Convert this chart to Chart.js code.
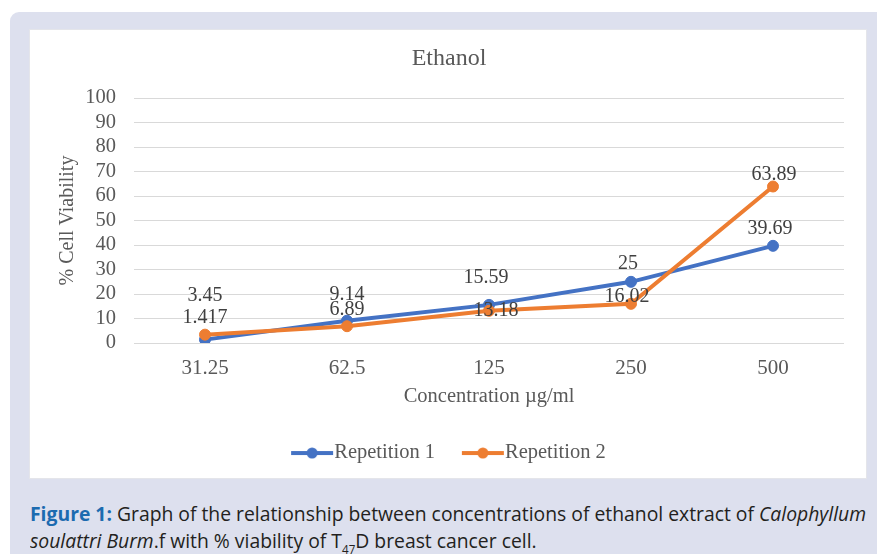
<!DOCTYPE html>
<html>
<head>
<meta charset="utf-8">
<script src="https://cdn.jsdelivr.net/npm/chart.js@4/dist/chart.umd.min.js"></script>
<style>
  html, body { margin: 0; padding: 0; background: #fff; }
  body { width: 877px; height: 554px; position: relative; overflow: hidden; }
  #frame { position: absolute; left: 10px; top: 12px; width: 890px; height: 560px; background: #dde0ee; border-radius: 9px; }
  #panel { position: absolute; left: 30px; top: 30px; width: 836px; height: 448px; background: #fff; box-shadow: 0 0 0 1px #e4e5ea; overflow: hidden; }
  #caption { position: absolute; left: 30px; top: 500px; width: 836px; font-family: "Open Sans", "Noto Sans", sans-serif; font-size: 20px; line-height: 27px; color: #231f20; }
  #caption div { white-space: nowrap; transform-origin: 0 0; display: inline-block; }
  #caption b { color: #1c6bb0; }
  #caption sub { font-size: 12px; vertical-align: -6px; line-height: 0; }
</style>
</head>
<body>
<div id="frame"></div>
<div id="panel"><canvas id="chart" width="836" height="448"></canvas></div>
<div id="caption">
  <div id="l1"><b>Figure 1:</b> Graph of the relationship between concentrations of ethanol extract of <i>Calophyllum</i></div><br>
  <div id="l2"><i>soulattri Burm</i>.f with % viability of T<sub>47</sub>D breast cancer cell.</div>
</div>
<script>
const categories = ['31.25', '62.5', '125', '250', '500'];
const repetition1 = [1.417, 9.14, 15.59, 25, 39.69];
const repetition2 = [3.45, 6.89, 13.18, 16.02, 63.89];
const seriesNames = ['Repetition 1', 'Repetition 2'];
const yMin = 0, yMax = 100, yStep = 10;

const BLUE = '#4472C4';
const ORANGE = '#ED7D31';
const SERIF = "'Liberation Serif', 'Times New Roman', serif";

// squeeze the caption to look like the narrow journal font
const l1 = document.getElementById('l1');
const sx = 836 / l1.getBoundingClientRect().width;
l1.style.transform = 'scaleX(' + sx + ')';
document.getElementById('l2').style.transform = 'scaleX(' + sx + ')';

// legend marker: short line with a dot, like Excel
function legendMarker(color) {
  const c = document.createElement('canvas');
  c.width = 90; c.height = 12;
  const g = c.getContext('2d');
  g.strokeStyle = color; g.lineWidth = 4;
  g.beginPath(); g.moveTo(28, 6); g.lineTo(70, 6); g.stroke();
  g.fillStyle = color;
  g.beginPath(); g.arc(49, 6, 5.5, 0, Math.PI * 2); g.fill();
  return c;
}

// value labels drawn next to each point, nudged like the original
const pointLabels = {
  id: 'pointLabels',
  afterDatasetsDraw(chart, args, opts) {
    const ctx = chart.ctx;
    ctx.save();
    ctx.font = '20px ' + SERIF;
    ctx.fillStyle = '#404040';
    ctx.textAlign = 'center';
    ctx.textBaseline = 'middle';
    chart.data.datasets.forEach((ds, di) => {
      const meta = chart.getDatasetMeta(di);
      meta.data.forEach((pt, i) => {
        const s = opts.shift[di][i];
        ctx.fillText(String(ds.data[i]), pt.x + s[0], pt.y + s[1]);
      });
    });
    ctx.restore();
  }
};

new Chart(document.getElementById('chart'), {
  type: 'line',
  data: {
    labels: categories,
    datasets: [
      { label: seriesNames[0], data: repetition1, borderColor: BLUE, backgroundColor: BLUE,
        borderWidth: 4, pointRadius: 5.5, pointBorderWidth: 1, pointStyle: 'circle', order: 1,
        legendImg: legendMarker(BLUE) },
      { label: seriesNames[1], data: repetition2, borderColor: ORANGE, backgroundColor: ORANGE,
        borderWidth: 4, pointRadius: 5.5, pointBorderWidth: 1, pointStyle: 'circle', order: 0,
        legendImg: legendMarker(ORANGE) }
    ]
  },
  options: {
    responsive: false,
    animation: false,
    layout: { padding: { top: 14, left: 24, right: 22, bottom: 4.7 } },
    plugins: {
      tooltip: { enabled: false },
      title: {
        display: true, text: 'Ethanol', color: '#595959',
        font: { family: SERIF, size: 24, weight: 'normal' },
        padding: { top: 0, bottom: 25.2 }
      },
      legend: {
        position: 'bottom',
        labels: {
          color: '#595959',
          font: { family: SERIF, size: 20.5 },
          usePointStyle: true,
          pointStyleWidth: 31.75,
          padding: 28,
          sort: (a, b) => a.datasetIndex - b.datasetIndex,
          generateLabels(chart) {
            return chart.data.datasets.map((ds, i) => ({
              text: ds.label, fontColor: '#595959', pointStyle: ds.legendImg,
              fillStyle: ds.borderColor, strokeStyle: ds.borderColor, lineWidth: 0,
              hidden: false, datasetIndex: i
            }));
          }
        }
      },
      pointLabels: {
        shift: [
          [[0, -22], [0, -26], [-3, -27], [-3, -18], [-3, -17]],
          [[0, -39], [0, -16], [7, 0], [-4, -7], [1, -12]]
        ]
      }
    },
    scales: {
      x: {
        offset: true,
        grid: { display: false, drawTicks: false },
        border: { display: false },
        ticks: { color: '#595959', font: { family: SERIF, size: 21 }, padding: 12.4 },
        title: {
          display: true, text: 'Concentration µg/ml', color: '#595959',
          font: { family: SERIF, size: 20.5 }, padding: { top: 4, bottom: 5.4 }
        },
        afterFit(scale) { scale.height = 71.7; }
      },
      y: {
        min: yMin, max: yMax,
        grid: { color: '#d9d9d9', lineWidth: 1, drawTicks: false },
        border: { display: false },
        ticks: { stepSize: yStep, autoSkip: false, color: '#595959', font: { family: SERIF, size: 20.5 }, padding: 18 },
        title: {
          display: true, text: '% Cell Viability', color: '#595959',
          font: { family: SERIF, size: 20 }, padding: { top: 2, bottom: 4 }
        },
        afterFit(scale) { scale.width = 80; }
      }
    }
  },
  plugins: [pointLabels]
});
</script>
</body>
</html>
